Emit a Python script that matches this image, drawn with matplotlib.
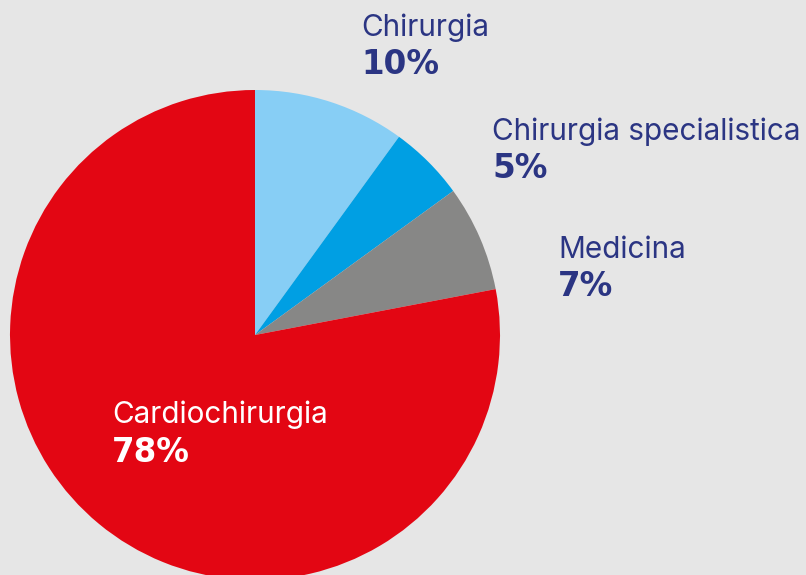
import matplotlib
matplotlib.use("Agg")
import matplotlib.pyplot as plt

# data
labels = ["Chirurgia", "Chirurgia specialistica", "Medicina", "Cardiochirurgia"]
values = [10, 5, 7, 78]
colors = ["#87CEF5", "#009FE3", "#878786", "#E30613"]
text_colors = ["#2B3583", "#2B3583", "#2B3583", "#FFFFFF"]
# label anchor (left x, baseline y of name) in pixels from top-left
label_pos = [(362, 36), (493, 140), (559, 258), (113, 423)]

W, H = 806, 575
fig = plt.figure(figsize=(W / 100, H / 100), dpi=100)
fig.patch.set_facecolor("#E6E6E6")
ax = fig.add_axes([0, 0, 1, 1])

ax.pie(values, colors=colors, startangle=90, counterclock=False,
       center=(255, H - 335), radius=245, frame=True,
       wedgeprops=dict(linewidth=0))
ax.set_xlim(0, W)
ax.set_ylim(0, H)
ax.axis("off")

for lab, val, tc, (x, y) in zip(labels, values, text_colors, label_pos):
    ax.text(x - 1, H - y, lab, color=tc, fontsize=21.4, family="Inter",
            ha="left", va="baseline")
    ax.text(x - 1, H - y - 38.5, f"{val}%", color=tc, fontsize=23.5, family="DejaVu Sans",
            fontweight="bold", ha="left", va="baseline")

fig.savefig("out.png", dpi=100, facecolor=fig.get_facecolor())
